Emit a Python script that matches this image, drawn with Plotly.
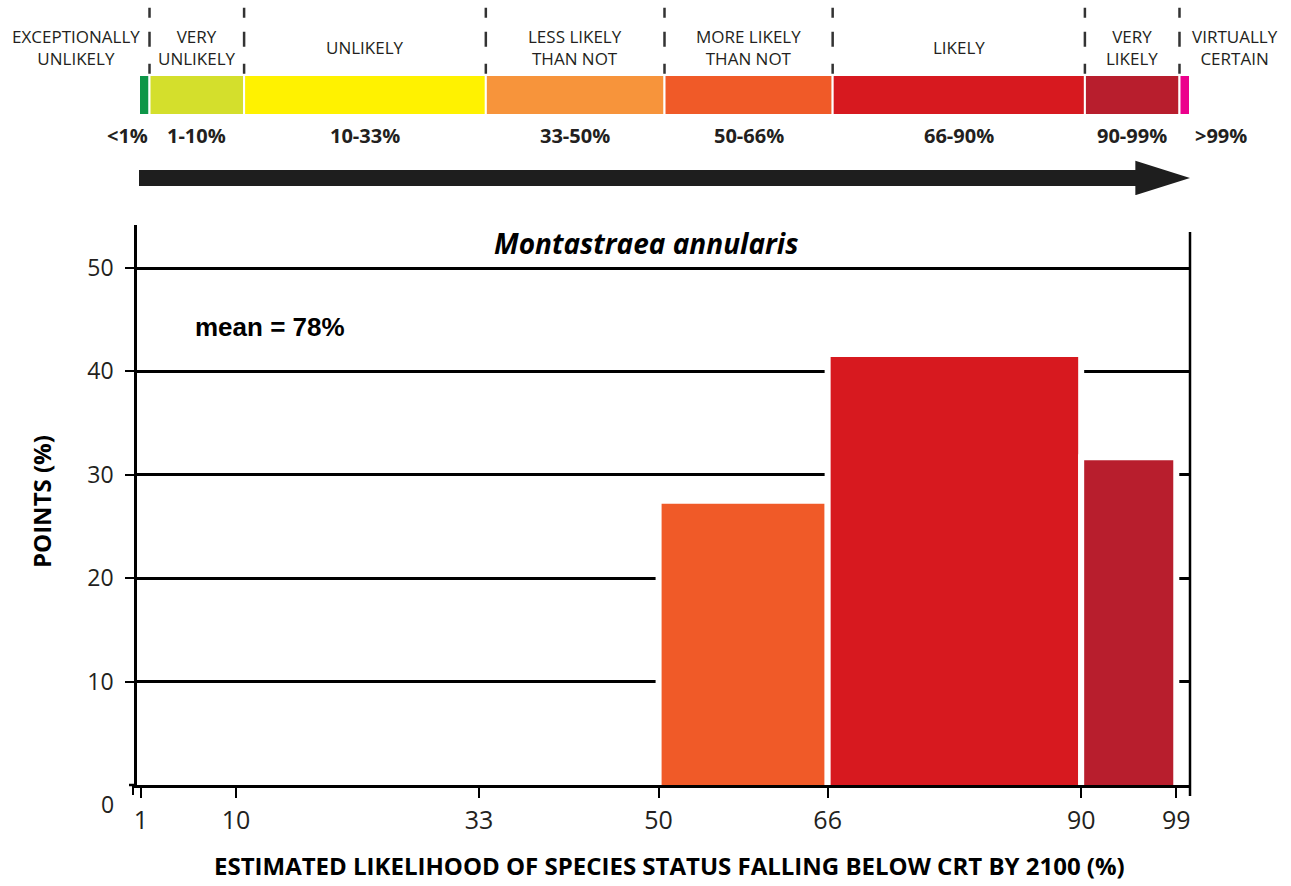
import plotly.graph_objects as go

# ---------------- data ----------------
bin_lo = [1, 10, 33, 50, 66, 90]
bin_hi = [10, 33, 50, 66, 90, 99]
points_pct = [0, 0, 0, 27.2, 41.4, 31.4]
bar_colors = ["#d4df2c", "#fff200", "#f7943b", "#f05a28", "#d7191f", "#b81e2d"]

scale_edges = [0, 1, 10, 33, 50, 66, 90, 99, 100]
scale_colors = ["#0d9648", "#d4df2c", "#fff200", "#f7943b", "#f05a28", "#d7191f", "#b81e2d", "#ec008c"]
scale_names = ["EXCEPTIONALLY<br>UNLIKELY", "VERY<br>UNLIKELY", "UNLIKELY", "LESS LIKELY<br>THAN NOT",
               "MORE LIKELY<br>THAN NOT", "LIKELY", "VERY<br>LIKELY", "VIRTUALLY<br>CERTAIN"]
scale_ranges = ["<1%", "1-10%", "10-33%", "33-50%", "50-66%", "66-90%", "90-99%", ">99%"]
x_ticks = [1, 10, 33, 50, 66, 90, 99]
y_ticks = [10, 20, 30, 40, 50]
mean_value = 78
species = "Montastraea annularis"

# ---------------- styling constants ----------------
W, H = 1291, 886
ML, MR, MT, MB = 137, 101, 5, 101
PLOT_H = H - MT - MB
PLOT_W = W - ML - MR
TXT = "#231f20"
SANS = "Open Sans, Liberation Sans, sans-serif"
Y_PX_PER_UNIT = (785 - 268) / 50
OUTLINE_W = 6
OUT_U = (OUTLINE_W / 2) / Y_PX_PER_UNIT   # half outline in data units
PAD = 0.6                                 # hides bottom white outline below the axis
X_RANGE = [0.63, 100.3]
Y_TOP = (785 - 225) / Y_PX_PER_UNIT


def py2paper(py):
    return (H - MB - py) / PLOT_H


def px2paper(px):
    return (px - ML) / PLOT_W


fig = go.Figure()

# main histogram bars
mids = [(a + b) / 2 for a, b in zip(bin_lo, bin_hi)]
widths = [b - a for a, b in zip(bin_lo, bin_hi)]
fig.add_trace(go.Bar(
    x=mids, y=[v + PAD + OUT_U if v > 0 else 0 for v in points_pct],
    base=[-PAD] * len(points_pct), width=widths,
    marker=dict(color=bar_colors, line=dict(color="white", width=OUTLINE_W)),
    xaxis="x", yaxis="y", showlegend=False, hoverinfo="skip"))

# likelihood colour scale band (top)
s_mids = [(a + b) / 2 for a, b in zip(scale_edges[:-1], scale_edges[1:])]
s_widths = [b - a for a, b in zip(scale_edges[:-1], scale_edges[1:])]
fig.add_trace(go.Bar(
    x=s_mids, y=[1] * len(s_mids), base=[0] * len(s_mids), width=s_widths,
    marker=dict(color=scale_colors, line=dict(color="white", width=2)),
    xaxis="x2", yaxis="y2", showlegend=False, hoverinfo="skip"))

shapes = []
# dashed separators
for e in scale_edges[1:-1]:
    shapes.append(dict(type="line", xref="x2", yref="y2", x0=e, x1=e, y0=2.68, y1=1.0,
                       line=dict(color="#333333", width=2.5, dash="10px,14px,15px,17px,10px")))
# arrow
yc = -1.575
shapes.append(dict(type="path", xref="x2", yref="y2",
                   path=(f"M 0,{yc+0.2} L 94.8,{yc+0.2} L 94.8,{yc+0.43} L 100,{yc} "
                         f"L 94.8,{yc-0.43} L 94.8,{yc-0.2} L 0,{yc-0.2} Z"),
                   fillcolor="#1e1e1e", line=dict(width=0)))
# right frame line and axis extension
shapes.append(dict(type="line", xref="paper", yref="paper", x0=1, x1=1,
                   y0=py2paper(796), y1=py2paper(232), line=dict(color="black", width=2.5)))
shapes.append(dict(type="line", xref="paper", yref="paper", x0=px2paper(129), x1=0,
                   y0=0, y1=0, line=dict(color="black", width=2.5)))
shapes.append(dict(type="line", xref="paper", yref="paper", x0=px2paper(133), x1=px2paper(133),
                   y0=0, y1=py2paper(795), line=dict(color="black", width=2)))

annotations = []
# category names and ranges
n = len(scale_names)
for i in range(n):
    if i == 0:
        x, xa, xs = scale_edges[1], "right", -8
    elif i == n - 1:
        x, xa, xs = scale_edges[-1], "left", 0
    else:
        x, xa, xs = s_mids[i], "center", 0
    annotations.append(dict(x=x, y=1.7, xref="x2", yref="y2", text=scale_names[i], showarrow=False,
                            xanchor=xa, yanchor="middle", xshift=xs, align="center",
                            font=dict(family=SANS, size=17, color=TXT)))
    if i == 0:
        rx, ra, rs = scale_edges[1], "right", 0
    elif i == n - 1:
        rx, ra, rs = scale_edges[-1], "left", 3
    else:
        rx, ra, rs = s_mids[i], "center", 0
    annotations.append(dict(x=rx, y=-0.5, xref="x2", yref="y2", text=f"<b>{scale_ranges[i]}</b>",
                            showarrow=False, xanchor=ra, yanchor="middle", xshift=rs,
                            font=dict(family=SANS, size=20, color=TXT)))

# y "0" label
annotations.append(dict(x=px2paper(107), y=0, xref="paper", yref="y", text="0", showarrow=False,
                        xanchor="center", yanchor="middle", yshift=-19,
                        font=dict(family=SANS, size=23, color=TXT)))
# titles
annotations.append(dict(x=px2paper(646), y=py2paper(243), xref="paper", yref="paper",
                        text=f"<b><i>{species}</i></b>", showarrow=False, xanchor="center", yanchor="middle",
                        font=dict(family=SANS, size=28, color="black")))
annotations.append(dict(x=px2paper(193), y=py2paper(327), xref="paper", yref="paper",
                        text=f"<b>mean = {mean_value}%</b>", showarrow=False, xanchor="left", yanchor="middle",
                        font=dict(family="Liberation Sans, Arial, sans-serif", size=26, color="black")))
annotations.append(dict(x=px2paper(669), y=py2paper(884), xref="paper", yref="paper",
                        text="<b>ESTIMATED LIKELIHOOD OF SPECIES STATUS FALLING BELOW CRT BY 2100 (%)</b>",
                        showarrow=False, xanchor="center", yanchor="bottom",
                        font=dict(family=SANS, size=24, color="black")))
annotations.append(dict(x=px2paper(42), y=py2paper(502), xref="paper", yref="paper",
                        text="<b>POINTS (%)</b>", showarrow=False, textangle=-90,
                        xanchor="center", yanchor="middle",
                        font=dict(family=SANS, size=24, color="black")))

fig.update_layout(
    width=W, height=H, margin=dict(l=ML, r=MR, t=MT, b=MB),
    paper_bgcolor="white", plot_bgcolor="white", showlegend=False, hovermode=False,
    barmode="overlay",
    xaxis=dict(domain=[0, 1], range=X_RANGE, tickvals=x_ticks, ticktext=[str(t) for t in x_ticks],
               ticks="outside", ticklen=10, tickwidth=2, tickcolor="black",
               showline=True, linecolor="black", linewidth=2.5, showgrid=False, zeroline=False,
               ticklabelstandoff=1, tickfont=dict(family=SANS, size=25, color=TXT), anchor="y"),
    yaxis=dict(domain=[0, py2paper(225)], range=[0, Y_TOP], tickvals=y_ticks,
               ticks="outside", ticklen=9, tickwidth=2, tickcolor="black",
               showline=True, linecolor="black", linewidth=2.5,
               showgrid=True, gridcolor="black", gridwidth=2.5, zeroline=False,
               ticklabelstandoff=7, tickfont=dict(family=SANS, size=23, color=TXT), anchor="x"),
    xaxis2=dict(domain=[px2paper(139), 1], range=[0, 100], visible=False, anchor="y2"),
    yaxis2=dict(domain=[py2paper(195), 1], range=[-2.0, 2.75], visible=False, anchor="x2"),
    shapes=shapes, annotations=annotations,
)

fig.write_html("out.html", config={"displayModeBar": False},
               post_script="document.body.style.margin='0px';")
